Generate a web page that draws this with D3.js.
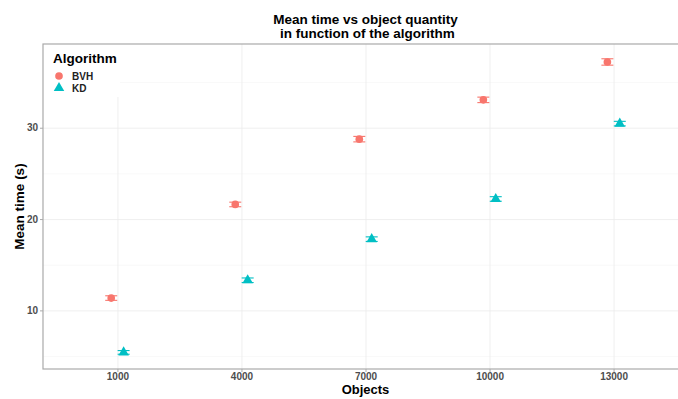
<!DOCTYPE html>
<html>
<head>
<meta charset="utf-8">
<script src="https://cdn.jsdelivr.net/npm/d3@7"></script>
<style>
  body { margin: 0; background: #fff; }
  svg { font-family: "Liberation Sans", Arial, sans-serif; }
  .grid line { stroke: #ebebeb; stroke-width: 0.8; }
  .grid-minor line { stroke: #f4f4f4; stroke-width: 0.6; }
  .grid .domain, .grid-minor .domain { display: none; }
  .axis text { fill: #4d4d4d; font-size: 10px; font-weight: bold; }
  .axis line { stroke: #aaa; }
  .axis .domain { display: none; }
</style>
</head>
<body>
<svg class="chart"></svg>
<script>
// data
var objects = ['1000', '4000', '7000', '10000', '13000'];
var algorithms = ['BVH', 'KD'];
var bvhMean = [11.35, 21.6, 28.75, 33.05, 37.2];
var bvhErr  = [0.25, 0.25, 0.3, 0.3, 0.35];
var kdMean  = [5.4, 13.3, 17.8, 22.2, 30.45];
var kdErr   = [0.2, 0.25, 0.25, 0.25, 0.25];
var yTicks = [10, 20, 30];
var yMinor = [5, 15, 25, 35];

var colors = {BVH: '#F8766D', KD: '#00BFC4'};

var margin = {top: 44, right: -10, bottom: 30, left: 43},
	width = 678 - margin.left - margin.right,
	height = 399 - margin.top - margin.bottom;

var chart = d3.select('.chart')
	.attr('width', 678)
	.attr('height', 399);

// flatten into rows
var data = [];
objects.forEach(function(o, i) {
	data.push({obj: o, alg: 'BVH', mean: bvhMean[i], err: bvhErr[i]});
	data.push({obj: o, alg: 'KD', mean: kdMean[i], err: kdErr[i]});
});

// discrete x with ggplot-like 0.6 expansion
var x = d3.scalePoint().domain(objects).range([0, width]).padding(0.6);
var step = x.step();
var dodge = d3.scalePoint().domain(algorithms).range([-step * 0.05, step * 0.05]);

var lo = d3.min(data, function(d) { return d.mean - d.err; }),
	hi = d3.max(data, function(d) { return d.mean + d.err; }),
	pad = (hi - lo) * 0.05;
var y = d3.scaleLinear().domain([lo - pad, hi + pad]).range([height, 0]);

var g = chart.append('g')
	.attr('transform', 'translate(' + margin.left + ',' + margin.top + ')');

// minor gridlines
g.append('g')
	.attr('class', 'grid-minor')
	.call(d3.axisLeft(y).tickValues(yMinor).tickSize(-width).tickFormat(''));

// major gridlines
g.append('g')
	.attr('class', 'grid')
	.call(d3.axisLeft(y).tickValues(yTicks).tickSize(-width).tickFormat(''));
g.append('g')
	.attr('class', 'grid')
	.attr('transform', 'translate(0,' + height + ')')
	.call(d3.axisBottom(x).tickSize(-height).tickFormat(''));

// error bars
var eb = g.selectAll('.eb')
	.data(data)
  .enter().append('g')
	.attr('class', 'eb')
	.attr('stroke', function(d) { return colors[d.alg]; })
	.attr('stroke-width', 1.1);
eb.append('line')
	.attr('x1', function(d) { return x(d.obj) + dodge(d.alg); })
	.attr('x2', function(d) { return x(d.obj) + dodge(d.alg); })
	.attr('y1', function(d) { return y(d.mean - d.err); })
	.attr('y2', function(d) { return y(d.mean + d.err); });
eb.selectAll('.cap')
	.data(function(d) { return [[d, d.mean - d.err], [d, d.mean + d.err]]; })
  .enter().append('line')
	.attr('x1', function(p) { return x(p[0].obj) + dodge(p[0].alg) - 6; })
	.attr('x2', function(p) { return x(p[0].obj) + dodge(p[0].alg) + 6; })
	.attr('y1', function(p) { return y(p[1]); })
	.attr('y2', function(p) { return y(p[1]); });

// points
var symCircle = d3.symbol().type(d3.symbolCircle).size(46),
	symTri = d3.symbol().type(d3.symbolTriangle).size(48);
g.selectAll('.pt')
	.data(data)
  .enter().append('path')
	.attr('class', 'pt')
	.attr('d', function(d) { return d.alg == 'BVH' ? symCircle() : symTri(); })
	.attr('fill', function(d) { return colors[d.alg]; })
	.attr('transform', function(d) {
		return 'translate(' + (x(d.obj) + dodge(d.alg)) + ',' + y(d.mean) + ')';
	});

// legend box (drawn inside the panel, covers grid)
var leg = g.append('g').attr('transform', 'translate(0,0)');
leg.append('rect')
	.attr('width', 77).attr('height', 53)
	.attr('fill', '#fff');
leg.append('text')
	.attr('x', 10).attr('y', 19)
	.style('font-size', '13.5px').style('font-weight', 'bold')
	.text('Algorithm');
algorithms.forEach(function(a, i) {
	var ly = 32 + i * 12;
	leg.append('path')
		.attr('d', a == 'BVH' ? symCircle() : symTri())
		.attr('fill', colors[a])
		.attr('transform', 'translate(16,' + ly + ')');
	leg.append('text')
		.attr('x', 29).attr('y', ly + 3.5)
		.style('font-size', '10px').style('font-weight', 'bold')
		.attr('fill', '#222')
		.text(a);
});

// panel border
g.append('rect')
	.attr('width', width).attr('height', height)
	.attr('fill', 'none').attr('stroke', '#aaa').attr('stroke-width', 1.2);

// axes
g.append('g')
	.attr('class', 'axis')
	.call(d3.axisLeft(y).tickValues(yTicks).tickSize(3).tickPadding(2));
g.append('g')
	.attr('class', 'axis')
	.attr('transform', 'translate(0,' + height + ')')
	.call(d3.axisBottom(x).tickSize(3).tickPadding(1));

// titles
var cx = margin.left + width / 2;
chart.append('text')
	.attr('x', cx).attr('y', 24)
	.attr('text-anchor', 'middle')
	.style('font-size', '13.5px').style('font-weight', 'bold')
	.text('Mean time vs object quantity');
chart.append('text')
	.attr('x', cx).attr('y', 38)
	.attr('text-anchor', 'middle')
	.style('font-size', '13.5px').style('font-weight', 'bold')
	.style('white-space', 'pre')
	.text(' in function of the algorithm');
chart.append('text')
	.attr('x', cx).attr('y', 394)
	.attr('text-anchor', 'middle')
	.style('font-size', '13px').style('font-weight', 'bold')
	.text('Objects');
chart.append('text')
	.attr('transform', 'translate(24,' + (margin.top + height / 2) + ') rotate(-90)')
	.attr('text-anchor', 'middle')
	.style('font-size', '13.5px').style('font-weight', 'bold')
	.text('Mean time (s)');
</script>
</body>
</html>
